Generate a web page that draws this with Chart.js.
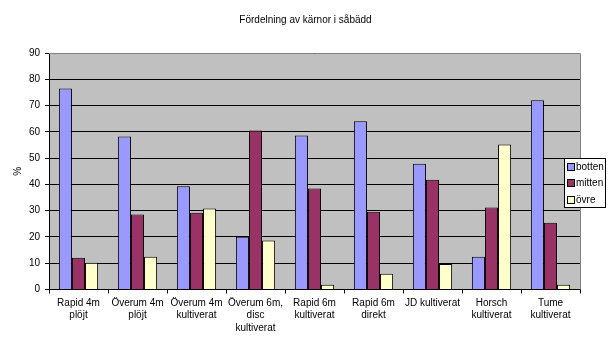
<!DOCTYPE html>
<html>
<head>
<meta charset="utf-8">
<script src="https://cdn.jsdelivr.net/npm/chart.js@4/dist/chart.umd.min.js"></script>
<style>
html,body{margin:0;padding:0;background:#fff;}
#wrap{width:611px;height:358px;position:relative;}
</style>
</head>
<body>
<div id="wrap"><canvas id="c" width="611" height="358"></canvas></div>
<script>
const chartTitle = "Fördelning av kärnor i såbädd";
const yTitle = "%";
const categories = [
  ["Rapid 4m", "plöjt"],
  ["Överum 4m", "plöjt"],
  ["Överum 4m", "kultiverat"],
  ["Överum 6m,", "disc", "kultiverat"],
  ["Rapid 6m", "kultiverat"],
  ["Rapid 6m", "direkt"],
  ["JD kultiverat"],
  ["Horsch", "kultiverat"],
  ["Tume", "kultiverat"]
];
const seriesNames = ["botten", "mitten", "övre"];
const botten = [76.5, 58.2, 39.3, 20.1, 58.6, 64.0, 47.9, 12.5, 72.0];
const mitten = [12.1, 28.5, 29.2, 60.5, 38.4, 29.6, 41.8, 31.2, 25.4];
const ovre   = [10.2, 12.5, 30.8, 18.6, 1.8, 6.0, 9.7, 55.2, 1.8];
const yTicks = [0, 10, 20, 30, 40, 50, 60, 70, 80, 90];

const FONT = "'Liberation Sans', Arial, sans-serif";

const plotBg = {
  id: 'plotBg',
  afterLayout(chart) {
    if (chart.titleBlock) {
      chart.titleBlock.left = 0;
      chart.titleBlock.right = chart.width;
      chart.titleBlock.width = chart.width;
    }
  },
  beforeDraw(chart) {
    const {ctx, chartArea: a} = chart;
    ctx.save();
    ctx.fillStyle = '#C0C0C0';
    ctx.fillRect(a.left, a.top, a.right - a.left, a.bottom - a.top);
    ctx.restore();
  },
  afterDatasetsDraw(chart) {
    const {ctx, chartArea: a} = chart;
    ctx.save();
    ctx.strokeStyle = '#808080';
    ctx.lineWidth = 1;
    ctx.beginPath();
    ctx.moveTo(a.left, a.top + 0.5);
    ctx.lineTo(a.right + 0.5, a.top + 0.5);
    ctx.lineTo(a.right + 0.5, a.bottom);
    ctx.stroke();
    ctx.restore();
  }
};

const boxLegend = {
  id: 'boxLegend',
  afterDraw(chart) {
    const {ctx} = chart;
    const ds = chart.data.datasets;
    const left = chart.width - 47, top = 158, w = 41, h = 49;
    ctx.save();
    ctx.fillStyle = '#fff';
    ctx.fillRect(left, top, w, h);
    ctx.strokeStyle = '#000';
    ctx.lineWidth = 1;
    ctx.strokeRect(left + 0.5, top + 0.5, w, h);
    ctx.font = "10px " + FONT;
    ctx.textBaseline = 'middle';
    ds.forEach((d, i) => {
      const cy = top + 8.5 + i * 16.5;
      ctx.fillStyle = d.backgroundColor;
      ctx.fillRect(left + 4, Math.round(cy - 3), 6, 6);
      ctx.strokeRect(left + 3.5, Math.round(cy - 3) - 0.5, 7, 7);
      ctx.fillStyle = '#000';
      ctx.fillText(d.label, left + 12, cy + 0.5);
    });
    ctx.restore();
  }
};

const colors = ['#9999FF', '#993366', '#FFFFCC'];
const seriesData = [botten, mitten, ovre];

new Chart(document.getElementById('c'), {
  type: 'bar',
  data: {
    labels: categories,
    datasets: seriesNames.map((n, i) => ({
      label: n,
      data: seriesData[i],
      backgroundColor: colors[i],
      borderColor: '#000',
      borderWidth: 1,
      barPercentage: 1,
      categoryPercentage: 0.665
    }))
  },
  options: {
    responsive: false,
    animation: false,
    devicePixelRatio: 1,
    layout: {padding: {left: 12, right: 31, top: 0, bottom: 21}},
    plugins: {
      legend: {display: false},
      tooltip: {enabled: false},
      title: {
        display: true,
        text: chartTitle,
        color: '#000',
        font: {family: FONT, size: 10, weight: 'normal'},
        padding: {top: 14, bottom: 27}
      }
    },
    scales: {
      x: {
        grid: {display: true, drawOnChartArea: false, drawTicks: true, tickLength: 4, offset: true, color: '#000'},
        border: {color: '#000', width: 1},
        ticks: {color: '#000', font: {family: FONT, size: 10, lineHeight: 1.25}, padding: 3, maxRotation: 0, autoSkip: false}
      },
      y: {
        min: 0, max: 90,
        afterBuildTicks(scale) { scale.ticks = yTicks.map(v => ({value: v})); },
        afterFit(scale) { scale.width = 37; },
        grid: {color: '#000', tickLength: 4},
        border: {color: '#000', width: 1},
        ticks: {color: '#000', font: {family: FONT, size: 10}, padding: 5},
        title: {display: true, text: yTitle, color: '#000', font: {family: FONT, size: 10}, padding: {top: 0, bottom: 0}}
      }
    }
  },
  plugins: [plotBg, boxLegend]
});
</script>
</body>
</html>
